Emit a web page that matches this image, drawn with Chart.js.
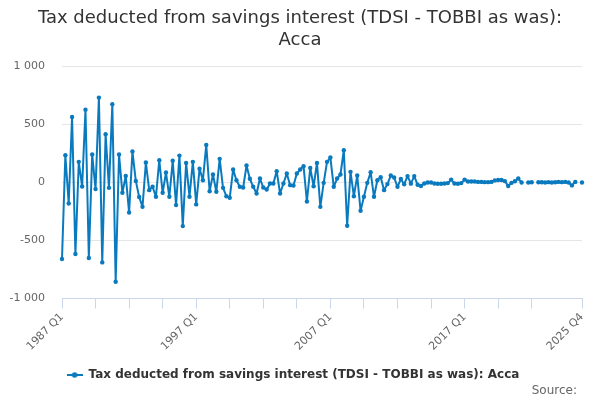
<!DOCTYPE html>
<html>
<head>
<meta charset="utf-8">
<title>Tax deducted from savings interest (TDSI - TOBBI as was): Acca</title>
<script src="https://cdn.jsdelivr.net/npm/chart.js@4.4.1/dist/chart.umd.min.js"></script>
<style>
  html, body { margin: 0; padding: 0; background: #fff; }
  #wrap { width: 600px; height: 400px; position: relative; }
</style>
</head>
<body>
<div id="wrap"><canvas id="chart"></canvas></div>
<script>
// quarterly categories 1987 Q1 .. 2025 Q4
const firstYear = 1987;
const lastYear = 2025;
const quarters = [];
for (let y = firstYear; y <= lastYear; y++) {
  for (let q = 1; q <= 4; q++) quarters.push(y + " Q" + q);
}

const shownLabels = ["1987 Q1", "1997 Q1", "2007 Q1", "2017 Q1", "2025 Q4"];
const yTicks = [-1000, -500, 0, 500, 1000];

const titleLines = ["Tax deducted from savings interest (TDSI - TOBBI as was):", "Acca"];
const seriesName = "Tax deducted from savings interest (TDSI - TOBBI as was): Acca";
const sourceText = "Source:";

// values; null = no value for the quarter
const acca = [
  -660, 235, -181, 565, -617, 178, -34, 628, -651, 241,
  -57, 732, -689, 416, -46, 674, -855, 241, -89, 57,
  -258, 267, 14, -125, -210, 172, -66, -37, -123, 192,
  -89, 86, -123, 187, -195, 232, -376, 169, -123, 178,
  -189, 118, 20, 324, -75, 69, -80, 204, -46, -118,
  -132, 112, 20, -37, -43, 146, 32, -37, -95, 34,
  -43, -60, -9, -9, 98, -95, -9, 77, -23, -26,
  77, 112, 141, -164, 126, -32, 169, -210, -3, 178,
  215, -37, 34, 69, 278, -373, 92, -118, 60, -244,
  -123, -3, 89, -123, 20, 46, -66, -14, 60, 43,
  -37, 30, -15, 55, -10, 55, -20, -30, -9, 0,
  0, -9, -11, -11, -9, -5, 25, -9, -11, -5,
  25, 9, 9, 9, 5, 5, 3, 3, 5, 18,
  22, 22, 12, -30, -3, 11, 34, 0, null, 0,
  2, null, 2, 2, 0, 3, 0, 2, 5, 3,
  5, 0, -25, 5, null, 0
];

const lineColor = "#0a7abf";
const axisColor = "#ccd6eb";
const tickEvery = 10;

// little line-with-dot marker for the legend
const marker = (() => {
  const c = document.createElement("canvas");
  c.width = 16; c.height = 8;
  const g = c.getContext("2d");
  g.strokeStyle = lineColor;
  g.lineWidth = 2;
  g.beginPath(); g.moveTo(0, 4); g.lineTo(16, 4); g.stroke();
  g.fillStyle = lineColor;
  g.beginPath(); g.arc(8, 4, 2.8, 0, Math.PI * 2); g.fill();
  return c;
})();

const fmt = (v) => String(v).replace(/\B(?=(\d{3})+(?!\d))/g, " ");

// title centred on the whole canvas, "Source:" in the bottom right corner
const textPlugin = {
  id: "pageText",
  afterDraw(chart) {
    const ctx = chart.ctx;
    ctx.save();
    ctx.textBaseline = "middle";
    ctx.font = "18px 'DejaVu Sans', sans-serif";
    ctx.fillStyle = "#333";
    ctx.textAlign = "center";
    titleLines.forEach((t, i) => ctx.fillText(t, chart.width / 2, 18 + i * 22));
    ctx.font = "12px 'DejaVu Sans', sans-serif";
    ctx.fillStyle = "#666";
    ctx.textAlign = "right";
    ctx.fillText(sourceText, 577, 391);
    ctx.restore();
  }
};

Chart.defaults.font.family = "'DejaVu Sans', sans-serif";
Chart.defaults.color = "#666";

new Chart(document.getElementById("chart"), {
  type: "line",
  data: {
    labels: quarters,
    datasets: [{
      label: seriesName,
      data: acca,
      borderColor: lineColor,
      backgroundColor: lineColor,
      borderWidth: 2,
      borderJoinStyle: "round",
      borderCapStyle: "round",
      pointRadius: 2.2,
      pointHoverRadius: 3,
      pointBorderWidth: 0,
      tension: 0,
      spanGaps: false
    }]
  },
  plugins: [textPlugin],
  options: {
    responsive: true,
    maintainAspectRatio: false,
    animation: false,
    layout: { padding: { left: 4, right: 18, top: 66.5, bottom: 9 } },
    plugins: {
      title: { display: false },
      legend: {
        position: "bottom",
        labels: {
          usePointStyle: true,
          pointStyle: marker,
          pointStyleWidth: 16,
          color: "#333",
          font: { size: 12, weight: "bold" },
          padding: 10
        }
      },
      tooltip: { enabled: false }
    },
    scales: {
      x: {
        type: "category",
        afterFit: (s) => { s.height = 60.5; },
        border: { display: true, color: axisColor, width: 1 },
        grid: {
          drawOnChartArea: false,
          drawTicks: true,
          tickLength: 10,
          tickColor: (ctx) => {
            const i = ctx.index;
            const last = quarters.length - 1;
            if (i === last) return axisColor;
            if (i % tickEvery === 0 && last - i > 6) return axisColor;
            return "rgba(0,0,0,0)";
          }
        },
        ticks: {
          autoSkip: false,
          minRotation: 45,
          maxRotation: 45,
          padding: 2,
          color: "#666",
          font: { size: 11 },
          callback: function (val) {
            const lab = this.getLabelForValue(val);
            return shownLabels.includes(lab) ? lab : "";
          }
        }
      },
      y: {
        min: yTicks[0],
        max: yTicks[yTicks.length - 1],
        afterFit: (s) => { s.width = 58; },
        afterBuildTicks: (s) => { s.ticks = yTicks.map((v) => ({ value: v })); },
        border: { display: false },
        grid: { color: "#e6e6e6", drawTicks: false },
        ticks: {
          padding: 17,
          color: "#666",
          font: { size: 11 },
          callback: (v) => fmt(v)
        }
      }
    }
  }
});
</script>
</body>
</html>
